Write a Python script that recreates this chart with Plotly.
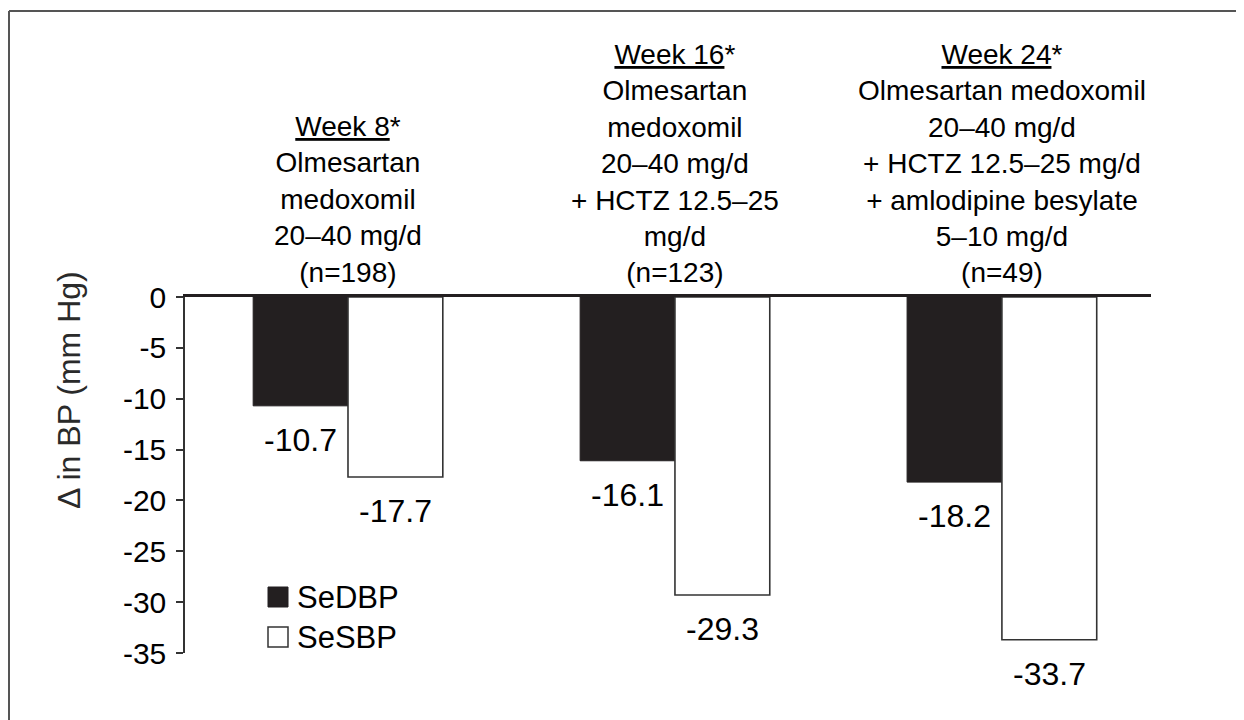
import plotly.graph_objects as go

# ---------------- data ----------------
categories = ["Week 8", "Week 16", "Week 24"]
sedbp = [-10.7, -16.1, -18.2]
sesbp = [-17.7, -29.3, -33.7]
series_names = ["SeDBP", "SeSBP"]
group_headers = [
    "<u>Week 8</u>*<br>Olmesartan<br>medoxomil<br>20–40 mg/d<br>(n=198)",
    "<u>Week 16</u>*<br>Olmesartan<br>medoxomil<br>20–40 mg/d<br>+ HCTZ 12.5–25<br>mg/d<br>(n=123)",
    "<u>Week 24</u>*<br>Olmesartan medoxomil<br>20–40 mg/d<br>+ HCTZ 12.5–25 mg/d<br>+ amlodipine besylate<br>5–10 mg/d<br>(n=49)",
]
y_ticks = [0, -5, -10, -15, -20, -25, -30, -35]
y_title = "Δ in BP (mm Hg)"

# ---------------- layout geometry ----------------
OFF = 8                      # page body margin
W, H = 1244 - OFF, 720 - OFF
L, R, T, B = 185 - OFF, 1151 - OFF, 297 - OFF, 653 - OFF
FONT = "Liberation Sans, Arial, sans-serif"
INK = "#231f20"
FS_HEAD = 28
FS_VAL = 32
FS_TICK = 30
FS_LEG = 31
FS_TITLE = 32
BARGAP = 0.42


def px(x):
    """page pixel x -> paper fraction"""
    return (x - OFF - L) / (R - L)


def py(y):
    """page pixel y -> paper fraction"""
    return (B - (y - OFF)) / (B - T)


fig = go.Figure()
fig.add_trace(go.Bar(x=categories, y=sedbp, name=series_names[0],
                     marker=dict(color=INK, line=dict(color=INK, width=1)),
                     showlegend=False))
fig.add_trace(go.Bar(x=categories, y=sesbp, name=series_names[1],
                     marker=dict(color="white", line=dict(color="#333333", width=1.6)),
                     showlegend=False))

annotations = []
# value labels below bars
half = (1 - BARGAP) / 4.0
for i, c in enumerate(categories):
    for off, vals in ((-half, sedbp), (half, sesbp)):
        annotations.append(dict(x=i + off, y=vals[i], xref="x", yref="y",
                                text=f"{vals[i]:.1f}",
                                showarrow=False, yshift=-34, yanchor="middle",
                                xanchor="center",
                                font=dict(size=FS_VAL, color="black", family=FONT)))
# group headers
for i, txt in enumerate(group_headers):
    annotations.append(dict(x=i, y=1, xref="x", yref="paper", text=txt,
                            showarrow=False, yanchor="bottom", xanchor="center",
                            yshift=7, align="center",
                            font=dict(size=FS_HEAD, color="black", family=FONT)))
# y axis title
annotations.append(dict(x=px(69), y=py(390), xref="paper", yref="paper",
                        text=y_title, textangle=-90, showarrow=False,
                        xanchor="center", yanchor="middle",
                        font=dict(size=FS_TITLE, color="#2a2a2a", family=FONT)))
# legend text
for name, yc in zip(series_names, (597, 637)):
    annotations.append(dict(x=px(295), y=py(yc), xref="paper", yref="paper",
                            text=name, showarrow=False, xanchor="left",
                            yanchor="middle",
                            font=dict(size=FS_LEG, color="black", family=FONT)))

shapes = [
    # legend swatches
    dict(type="rect", xref="paper", yref="paper", x0=px(268), x1=px(288),
         y0=py(587), y1=py(607), fillcolor=INK, line=dict(color=INK, width=1)),
    dict(type="rect", xref="paper", yref="paper", x0=px(268), x1=px(288),
         y0=py(627), y1=py(647), fillcolor="white", line=dict(color="#333", width=1.5)),
    # outer frame (top and left)
    dict(type="line", xref="paper", yref="paper", x0=px(9), x1=px(1260),
         y0=py(11), y1=py(11), line=dict(color="#555", width=2)),
    dict(type="line", xref="paper", yref="paper", x0=px(9), x1=px(9),
         y0=py(11), y1=py(740), line=dict(color="#555", width=2)),
]

fig.update_layout(
    width=W, height=H,
    margin=dict(l=L, r=W - R, t=T, b=H - B, pad=0),
    paper_bgcolor="white", plot_bgcolor="white",
    barmode="group", bargap=BARGAP, bargroupgap=0,
    showlegend=False,
    annotations=annotations, shapes=shapes,
    font=dict(family=FONT, size=FS_HEAD, color="black"),
)
fig.update_xaxes(type="category", range=[-0.4985, 2.456], side="top",
                 showline=True, linecolor=INK, linewidth=3,
                 showticklabels=False, ticks="", showgrid=False, zeroline=False)
fig.update_yaxes(range=[-35, 0], tickvals=y_ticks,
                 ticktext=[str(v) for v in y_ticks],
                 showline=True, linecolor="#333", linewidth=1.5,
                 ticks="outside", ticklen=7, tickwidth=1.5, tickcolor="#333",
                 tickfont=dict(size=FS_TICK, color="black", family=FONT),
                 ticklabelstandoff=4,
                 showgrid=False, zeroline=False)

fig.write_html("out.html")
